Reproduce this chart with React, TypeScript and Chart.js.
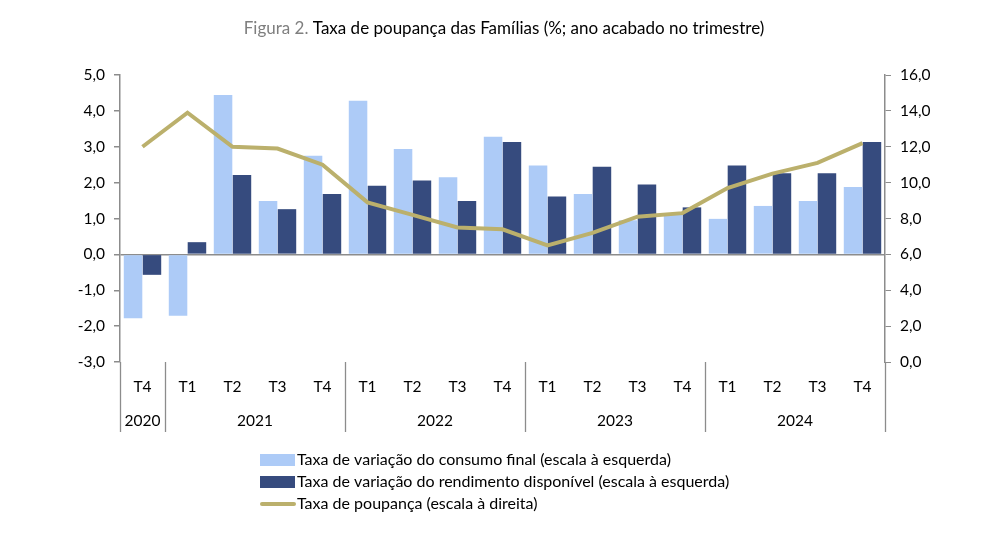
import { useEffect, useRef } from 'react';
import { Chart, registerables } from 'chart.js';

Chart.register(...registerables);

const FONT = 'Lato, "Open Sans", sans-serif';

const titleGrey = 'Figura 2.';
const titleMain = 'Taxa de poupança das Famílias (%; ano acabado no trimestre)';

const quarters = ['T4', 'T1', 'T2', 'T3', 'T4', 'T1', 'T2', 'T3', 'T4', 'T1', 'T2', 'T3', 'T4', 'T1', 'T2', 'T3', 'T4'];
const years = ['2020', '2021', '2021', '2021', '2021', '2022', '2022', '2022', '2022', '2023', '2023', '2023', '2023', '2024', '2024', '2024', '2024'];

const consumoLabel = 'Taxa de variação do consumo final (escala à esquerda)';
const rendimentoLabel = 'Taxa de variação do rendimento disponível (escala à esquerda)';
const poupancaLabel = 'Taxa de poupança (escala à direita)';

const consumo = [-1.78, -1.71, 4.44, 1.49, 2.75, 4.28, 2.94, 2.15, 3.28, 2.48, 1.68, 0.95, 1.12, 0.99, 1.35, 1.49, 1.88];
const rendimento = [-0.57, 0.34, 2.21, 1.26, 1.68, 1.91, 2.06, 1.49, 3.13, 1.61, 2.44, 1.95, 1.31, 2.48, 2.26, 2.26, 3.13];
const poupanca = [12.0, 13.9, 12.0, 11.9, 11.0, 8.9, 8.2, 7.5, 7.4, 6.5, 7.2, 8.1, 8.3, 9.7, 10.5, 11.1, 12.2];

const LIGHT = '#ADCBF7';
const DARK = '#364B7E';
const KHAKI = '#BBB06C';
const AXIS = '#8C8C8C';

const fmt = (v: number) => v.toFixed(1).replace('.', ',');

const overlayPlugin = {
  id: 'overlay',
  afterDraw(chart: any) {
    const ctx: CanvasRenderingContext2D = chart.ctx;
    const x = chart.scales.x;
    const area = chart.chartArea;
    ctx.save();

    // title
    ctx.font = `17px ${FONT}`;
    ctx.textBaseline = 'middle';
    ctx.textAlign = 'left';
    const g = titleGrey + ' ';
    const wg = ctx.measureText(g).width;
    const wm = ctx.measureText(titleMain).width;
    const tx = 504 - (wg + wm) / 2;
    ctx.fillStyle = '#7F7F7F';
    ctx.fillText(g, tx, 29);
    ctx.fillStyle = '#000';
    ctx.fillText(titleMain, tx + wg, 29);

    // category axis
    const n = quarters.length;
    const px = (i: number) => x.getPixelForValue(i);
    const bnd = (i: number) => (i <= 0 ? area.left : i >= n ? area.right : (px(i - 1) + px(i)) / 2);
    const bottomY = area.bottom + 70;
    ctx.strokeStyle = AXIS;
    ctx.lineWidth = 1.3;
    const seps: number[] = [0];
    for (let i = 1; i < n; i++) if (years[i] !== years[i - 1]) seps.push(i);
    seps.push(n);
    seps.forEach((i) => {
      const bx = Math.round(bnd(i)) + 0.5;
      ctx.beginPath();
      ctx.moveTo(bx, area.bottom);
      ctx.lineTo(bx, bottomY);
      ctx.stroke();
    });
    ctx.fillStyle = '#000';
    ctx.font = `15.5px ${FONT}`;
    ctx.textAlign = 'center';
    for (let i = 0; i < n; i++) ctx.fillText(quarters[i], px(i), area.bottom + 25);
    for (let s = 0; s < seps.length - 1; s++) {
      const cx = (bnd(seps[s]) + bnd(seps[s + 1])) / 2;
      ctx.fillText(years[seps[s]], cx, area.bottom + 59);
    }

    // legend
    const items = chart.data.datasets;
    ctx.textAlign = 'left';
    ctx.font = `16px ${FONT}`;
    [0, 1, 2].forEach((k, r) => {
      const ds = items[k];
      const cy = 460 + r * 22;
      if (ds.type === 'line') {
        ctx.strokeStyle = ds.borderColor;
        ctx.lineWidth = 4;
        ctx.lineCap = 'round';
        ctx.beginPath();
        ctx.moveTo(262, cy);
        ctx.lineTo(294, cy);
        ctx.stroke();
      } else {
        ctx.fillStyle = ds.backgroundColor;
        ctx.fillRect(260, cy - 6, 35, 12);
      }
      ctx.fillStyle = '#000';
      ctx.fillText(ds.label, 297, cy);
    });
    ctx.restore();
  },
};

export default function App() {
  const ref = useRef<HTMLCanvasElement | null>(null);
  useEffect(() => {
    if (!ref.current) return;
    const chart = new Chart(ref.current, {
      type: 'bar',
      data: {
        labels: quarters.map((q, i) => `${q} ${years[i]}`),
        datasets: [
          {
            type: 'bar',
            label: consumoLabel,
            data: consumo,
            backgroundColor: LIGHT,
            yAxisID: 'y',
            order: 2,
            categoryPercentage: 0.84,
            barPercentage: 0.98,
          },
          {
            type: 'bar',
            label: rendimentoLabel,
            data: rendimento,
            backgroundColor: DARK,
            yAxisID: 'y',
            order: 2,
            categoryPercentage: 0.84,
            barPercentage: 0.98,
          },
          {
            type: 'line',
            label: poupancaLabel,
            data: poupanca,
            borderColor: KHAKI,
            backgroundColor: KHAKI,
            borderWidth: 4,
            pointRadius: 0,
            tension: 0,
            yAxisID: 'y1',
            order: 0,
          } as any,
        ],
      },
      options: {
        animation: false,
        responsive: false,
        maintainAspectRatio: false,
        layout: { padding: { top: 75, bottom: 188, left: 0, right: 0 } },
        plugins: { legend: { display: false }, tooltip: { enabled: false }, title: { display: false } },
        scales: {
          x: { display: false, offset: true },
          y: {
            position: 'left',
            min: -3,
            max: 5,
            afterFit: (s: any) => { s.width = 120; },
            ticks: { stepSize: 1, callback: (v: any) => fmt(Number(v)), color: '#000', font: { family: FONT, size: 15.5 }, padding: 9 },
            grid: {
              drawOnChartArea: true,
              color: (c: any) => (c.tick && c.tick.value === 0 ? AXIS : 'rgba(0,0,0,0)'),
              lineWidth: 1.5,
              tickColor: AXIS,
              tickLength: 6,
            },
            border: { display: true, color: AXIS, width: 1.5 },
          },
          y1: {
            position: 'right',
            min: 0,
            max: 16,
            afterFit: (s: any) => { s.width = 115; },
            ticks: { stepSize: 2, callback: (v: any) => fmt(Number(v)), color: '#000', font: { family: FONT, size: 15.5 }, padding: 9 },
            grid: { drawOnChartArea: false, tickColor: AXIS, tickLength: 6 },
            border: { display: true, color: AXIS, width: 1.5 },
          },
        },
      },
      plugins: [overlayPlugin],
    });
    return () => chart.destroy();
  }, []);
  return (
    <div style={{ position: 'fixed', left: 0, top: 0, width: 1000, height: 550, background: '#fff' }}>
      <canvas ref={ref} width={1000} height={550} style={{ width: 1000, height: 550, display: 'block' }} />
    </div>
  );
}
